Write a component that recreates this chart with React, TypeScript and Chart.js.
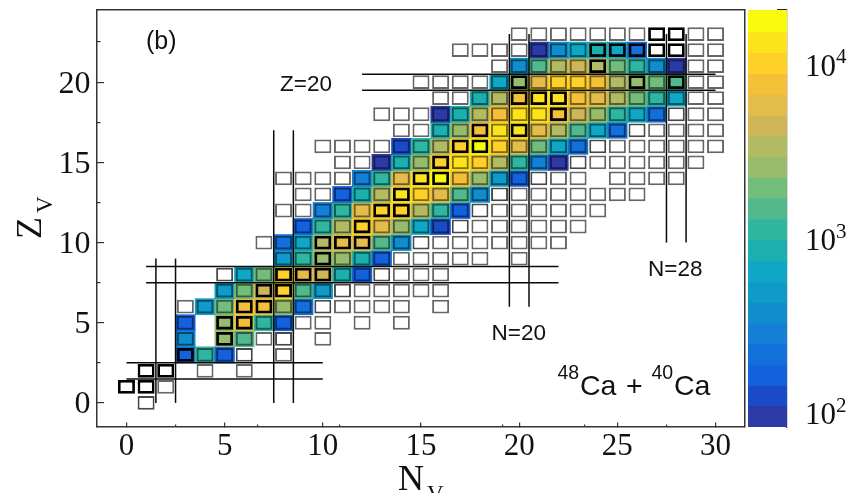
import React, { useEffect, useRef } from "react";
import { Chart, registerables } from "chart.js";

Chart.register(...registerables);

// Counts per (N, Z). Each row starts at firstN[Z]; null = no box.
const firstN = [1, 0, 1, 3, 3, 3, 3, 5, 5, 8, 7, 9, 8, 9, 8, 11, 10, 14, 13, 16, 15, 19, 17, 20];
const countsZ0 = [40];
const countsZ1 = [55, 50, 30];
const countsZ2 = [55, 55, null, 30, null, 30];
const countsZ3 = [160, 1100, 160, 40, null, 30];
const countsZ4 = [366, null, 2510, 1450, 30, 35, null, 30];
const countsZ5 = [160, null, 2510, 7560, 1100, 160, 30, 30, null, 30, null, 30];
const countsZ6 = [30, 482, 1910, 7560, 7560, 2510, 211, 35, 30, 30, 30, 30, null, 30];
const countsZ7 = [482, 1910, 4360, 9950, 1450, 482, 35, 30, 30, 30, 30, 30];
const countsZ8 = [35, 635, 1910, 9950, 5740, 4360, 836, 160, 35, 30, 30, 30];
const countsZ9 = [482, 1100, 2510, 2510, 836, 160, 30, 30, 30, 30, 30, null, 30];
const countsZ10 = [30, 211, 635, 3310, 5740, 5740, 1450, 366, 35, 30, 30, 30, 30, 30, 30, 30];
const countsZ11 = [160, 1100, 3310, 9950, 5740, 2510, 635, 122, 35, 30, 30, 30, 30, 30, 30];
const countsZ12 = [30, 30, 278, 1100, 5740, 9950, 9950, 3310, 1100, 160, 35, 30, 30, 30, 30, 30, 30];
const countsZ13 = [30, 30, 160, 836, 3310, 13100, 9950, 5740, 1450, 366, 35, 30, 30, 30, 30, 30, 30, 30];
const countsZ14 = [30, 30, 30, 30, 278, 1100, 5740, 13100, 17250, 7560, 2510, 482, 160, 35, 30, 30, null, 30, 30, 30, 30];
const countsZ15 = [30, 30, 93, 836, 2510, 9950, 13100, 9950, 3310, 1100, 278, 93, 35, 30, 30, 30, 30, 30, 30];
const countsZ16 = [30, 30, 30, 30, 122, 1100, 3310, 9950, 17250, 9950, 5740, 1910, 635, 211, 35, 30, 30, 30, 30, 30, 30];
const countsZ17 = [30, 30, 836, 2510, 7560, 13100, 13100, 5740, 3310, 1450, 635, 211, 35, 30, 30, 30, 30];
const countsZ18 = [30, 30, 30, 93, 836, 3310, 7560, 13100, 13100, 7560, 4360, 2510, 1100, 635, 211, 35, 30, 30];
const countsZ19 = [30, 30, 836, 3310, 7560, 13100, 13100, 7560, 5740, 3310, 1910, 1100, 635, 30, 30];
const countsZ20 = [30, 30, 30, 30, 635, 2510, 5740, 9950, 9950, 7560, 3310, 2510, 1910, 1450, 30, 30];
const countsZ21 = [30, 366, 1450, 3310, 4360, 3310, 1910, 1100, 366, 93, 30, 30];
const countsZ22 = [30, 30, 30, 30, 93, 366, 635, 836, 635, 211, 55, 55, 30, 30];
const countsZ23 = [30, 30, 30, 30, 30, 30, 30, 55, 55, 30, 30];
const allRows = [
  countsZ0, countsZ1, countsZ2, countsZ3, countsZ4, countsZ5, countsZ6, countsZ7, countsZ8, countsZ9,
  countsZ10, countsZ11, countsZ12, countsZ13, countsZ14, countsZ15, countsZ16, countsZ17, countsZ18,
  countsZ19, countsZ20, countsZ21, countsZ22, countsZ23,
];

// Boxes with a heavy outline, as [N, Z].
const heavyBoxes = [
  [0, 1], [1, 1], [1, 2], [2, 2], [3, 3], [5, 4], [5, 5], [6, 5], [6, 6], [7, 6], [7, 7], [8, 7],
  [8, 8], [9, 8], [10, 8], [10, 9], [10, 10], [11, 10], [12, 10], [12, 11], [13, 12], [14, 12],
  [14, 13], [15, 14], [16, 14], [16, 15], [17, 16], [18, 16], [18, 17], [20, 17], [22, 18],
  [20, 19], [21, 19], [22, 19], [20, 20], [26, 20], [28, 20], [24, 21], [24, 22], [25, 22],
  [26, 22], [27, 22], [28, 22], [27, 23], [28, 23],
];

// Shell-closure guide lines: [N1, Z1, N2, Z2].
const shellLines = [
  [0, 1.5, 10, 1.5], [0, 2.5, 10, 2.5], [1, 7.5, 22, 7.5], [1, 8.5, 22, 8.5],
  [12, 19.5, 30, 19.5], [12, 20.5, 30, 20.5],
  [1.5, 0, 1.5, 9], [2.5, 0, 2.5, 9], [7.5, 0, 7.5, 17], [8.5, 0, 8.5, 17],
  [19.5, 6, 19.5, 23], [20.5, 6, 20.5, 23], [27.5, 10, 27.5, 23], [28.5, 10, 28.5, 23],
];

// Colour scale bands (bottom to top).
const bandEdges = [81, 107, 140, 184, 243, 319, 420, 553, 728, 958, 1261, 1660, 2185, 2877, 3787, 4985, 6563, 8640, 11375, 14974, 20000];
const bandColors = [
  "#2b3aa4", "#1a4ac6", "#1361dc", "#1370da", "#1480d5", "#0f8dcc", "#0f9ac8", "#0ea8c4", "#1cafb0",
  "#2fb6a0", "#52b88e", "#72bc7c", "#97bd6c", "#b3bb62", "#cfb757", "#e3bc4a", "#f4c038", "#ffd028",
  "#fde31c", "#f9fb0e",
];

const xMajor = [0, 5, 10, 15, 20, 25, 30];
const xMinor = [2.5, 7.5, 12.5, 17.5, 22.5, 27.5];
const yMajor = [0, 5, 10, 15, 20];
const yMinor = [2.5, 7.5, 12.5, 17.5, 22.5];
const cbMajor = [100, 1000, 10000];
const cbMinor = [90, 200, 300, 400, 500, 600, 700, 800, 900, 2000, 3000, 4000, 5000, 6000, 7000, 8000, 9000, 20000];
const cbExponents: Record<number, string> = { 100: "2", 1000: "3", 10000: "4" };

const SERIF = "'Liberation Serif', serif";
const SANS = "'Liberation Sans', sans-serif";
const FRAME = "#333";

const colorFor = (v: number) => {
  for (let i = 0; i < bandColors.length; i++) if (v < bandEdges[i + 1]) return bandEdges[i] <= v ? bandColors[i] : null;
  return bandColors[bandColors.length - 1];
};

const noPadX = (s: any) => {
  s.height = 66;
  s.paddingLeft = 0;
  s.paddingRight = 0;
};
const noPadY = (width: number) => (s: any) => {
  s.width = width;
  s.paddingTop = 0;
  s.paddingBottom = 0;
};

const textPlugin = {
  id: "chartText",
  afterDraw(chart: any) {
    const c = chart.ctx;
    const put = (s: string, x: number, y: number, font: string) => {
      c.font = font;
      c.fillText(s, x, y);
    };
    c.save();
    c.fillStyle = "#111";
    c.textAlign = "left";
    c.textBaseline = "alphabetic";
    put("(b)", 146, 49, `25px ${SANS}`);
    put("Z=20", 280, 91, `22.5px ${SANS}`);
    put("N=20", 491.5, 340, `22.5px ${SANS}`);
    put("N=28", 648, 276, `22.5px ${SANS}`);
    put("48", 557.5, 379, `19.5px ${SANS}`);
    put("Ca", 580, 395, `28.5px ${SANS}`);
    put("+", 626, 395, `28.5px ${SANS}`);
    put("40", 651.5, 379, `19.5px ${SANS}`);
    put("Ca", 674, 395, `28.5px ${SANS}`);
    put("N", 398, 490, `36px ${SERIF}`);
    put("V", 427, 501, `23px ${SERIF}`);
    c.translate(41, 239);
    c.rotate(-Math.PI / 2);
    put("Z", 0, 0, `36px ${SERIF}`);
    put("V", 26, 11, `23px ${SERIF}`);
    c.restore();
  },
};

const exponentPlugin = {
  id: "cbExponents",
  afterDraw(chart: any) {
    const c = chart.ctx;
    const y = chart.scales.y;
    c.save();
    c.fillStyle = "#111";
    c.textAlign = "left";
    c.textBaseline = "alphabetic";
    c.font = `21px ${SERIF}`;
    cbMajor.forEach((v) => c.fillText(cbExponents[v], 96, y.getPixelForValue(v) + 1));
    c.restore();
  },
};

const hiddenAxis = (axis: string, position: any, ticks: number[] | null, min: number, max: number, tickLength: number) => ({
  type: "linear",
  axis,
  position,
  min,
  max,
  afterBuildTicks: (s: any) => {
    s.ticks = (ticks || []).map((value) => ({ value }));
  },
  ticks: { display: false, autoSkip: false },
  grid: { drawOnChartArea: false, drawTicks: !!ticks, tickLength, color: FRAME, lineWidth: 1.2 },
  border: { display: !ticks, color: FRAME, width: 1.5 },
});

export default function App() {
  const mainRef = useRef<HTMLCanvasElement>(null);
  const barRef = useRef<HTMLCanvasElement>(null);

  useEffect(() => {
    const fills: any[] = [];
    const fillColors: string[] = [];
    const boxes: any[] = [];
    const boxEdge: string[] = [];
    const boxWidth: number[] = [];
    const boxFill: string[] = [];
    const heavy = new Set(heavyBoxes.map(([n, z]) => `${n}:${z}`));
    allRows.forEach((row, z) => {
      row.forEach((v, i) => {
        if (v === null) return;
        const n = firstN[z] + i;
        const col = colorFor(v);
        if (col) {
          fills.push({ x: n, y: [z - 0.5, z + 0.5] });
          fillColors.push(col);
        }
        const isHeavy = heavy.has(`${n}:${z}`);
        boxes.push({ x: n, y: [z - 0.43, z + 0.43] });
        boxFill.push(col ? "rgba(0,0,0,0)" : "#ffffff");
        boxEdge.push(isHeavy ? "#000000" : col ? "rgba(0,0,0,0.5)" : v >= 35 ? "rgba(0,0,0,0.72)" : "rgba(0,0,0,0.6)");
        boxWidth.push(isHeavy ? 2.8 : 2);
      });
    });

    const lineSets = shellLines.map(([a, b, c, d]) => ({
      type: "scatter",
      data: [{ x: a, y: b }, { x: c, y: d }],
      showLine: true,
      borderColor: "#0a0a0a",
      borderWidth: 1.5,
      pointRadius: 0,
      order: 0,
    }));

    const main = new Chart(mainRef.current as any, {
      type: "bar",
      data: {
        datasets: [
          { data: fills, backgroundColor: fillColors, barThickness: 19.64, grouped: false, order: 2, borderWidth: 0 },
          {
            data: boxes,
            backgroundColor: boxFill,
            borderColor: boxEdge,
            borderWidth: boxWidth,
            borderSkipped: false,
            barThickness: 17,
            grouped: false,
            order: 1,
            inflateAmount: 0,
          },
          ...lineSets,
        ] as any,
      },
      options: {
        animation: false,
        responsive: false,
        devicePixelRatio: 1,
        layout: { padding: { top: 10, right: 108, left: 0, bottom: 0 } },
        plugins: { legend: { display: false }, tooltip: { enabled: false } },
        events: [],
        scales: {
          x: {
            type: "linear",
            min: -1.5,
            max: 31.5,
            offset: false,
            afterFit: noPadX,
            afterBuildTicks: (s: any) => {
              s.ticks = xMajor.map((value) => ({ value }));
            },
            grid: { offset: false, drawOnChartArea: false, tickLength: -4.5, color: FRAME, lineWidth: 1.2 },
            border: { color: FRAME, width: 1.5 },
            ticks: { autoSkip: false, maxRotation: 0, padding: 5.5, color: "#111", font: { family: SERIF, size: 31 } },
          },
          y: {
            type: "linear",
            min: -1.5,
            max: 24.5,
            afterFit: noPadY(97),
            afterBuildTicks: (s: any) => {
              s.ticks = yMajor.map((value) => ({ value }));
            },
            grid: { drawOnChartArea: false, tickLength: -7, color: FRAME, lineWidth: 1.2 },
            border: { color: FRAME, width: 1.5 },
            ticks: { autoSkip: false, padding: 13.5, labelOffset: 2, color: "#111", font: { family: SERIF, size: 32 } },
          },
          xMinorAxis: hiddenAxis("x", { y: -1.5 }, xMinor, -1.5, 31.5, -2.5),
          yMinorAxis: hiddenAxis("y", { x: -1.5 }, yMinor, -1.5, 24.5, -3.5),
          xTopAxis: hiddenAxis("x", { y: 24.5 }, null, -1.5, 31.5, 0),
          yRightAxis: hiddenAxis("y", { x: 31.5 }, null, -1.5, 24.5, 0),
        } as any,
      } as any,
      plugins: [textPlugin],
    });

    const cbData = bandColors.map((_, i) => ({ x: 0.5, y: [bandEdges[i], bandEdges[i + 1]] }));
    const colorbar = new Chart(barRef.current as any, {
      type: "bar",
      data: {
        datasets: [{ data: cbData, backgroundColor: bandColors, barThickness: 39, borderWidth: 0, yAxisID: "y" }] as any,
      },
      options: {
        animation: false,
        responsive: false,
        devicePixelRatio: 1,
        layout: { padding: { top: 10, left: 8, right: 0, bottom: 66 } },
        plugins: { legend: { display: false }, tooltip: { enabled: false } },
        events: [],
        scales: {
          x: { type: "linear", min: 0, max: 1, offset: false, display: false, grid: { offset: false } },
          y: {
            type: "logarithmic",
            position: "right",
            min: 81,
            max: 20000,
            afterFit: noPadY(66),
            afterBuildTicks: (s: any) => {
              s.ticks = cbMajor.map((value) => ({ value }));
            },
            grid: { drawOnChartArea: false, drawTicks: false },
            border: { color: FRAME, width: 1.2 },
            ticks: {
              autoSkip: false,
              padding: 18,
              labelOffset: 5,
              color: "#111",
              font: { family: SERIF, size: 31 },
              callback: () => "10",
            },
          },
          cbMajorAxis: {
            type: "logarithmic",
            axis: "y",
            position: { x: 1 },
            min: 81,
            max: 20000,
            afterBuildTicks: (s: any) => {
              s.ticks = cbMajor.map((value) => ({ value }));
            },
            ticks: { display: false, autoSkip: false },
            grid: { drawOnChartArea: false, tickLength: 21, color: "#222", lineWidth: 1.2 },
            border: { display: false },
          },
          cbMinorAxis: {
            type: "logarithmic",
            axis: "y",
            position: { x: 1 },
            min: 81,
            max: 20000,
            afterBuildTicks: (s: any) => {
              s.ticks = cbMinor.map((value) => ({ value }));
            },
            ticks: { display: false, autoSkip: false },
            grid: { drawOnChartArea: false, tickLength: 10, color: "#222", lineWidth: 1.2 },
            border: { display: false },
          },
        } as any,
      } as any,
      plugins: [exponentPlugin],
    });

    return () => {
      main.destroy();
      colorbar.destroy();
    };
  }, []);

  return (
    <div style={{ position: "absolute", left: 0, top: 0, width: 853, height: 493, overflow: "hidden", background: "#fff" }}>
      <canvas ref={mainRef} width={853} height={493} style={{ position: "absolute", left: 0, top: 0 }} />
      <canvas ref={barRef} width={113} height={493} style={{ position: "absolute", left: 740, top: 0 }} />
    </div>
  );
}
